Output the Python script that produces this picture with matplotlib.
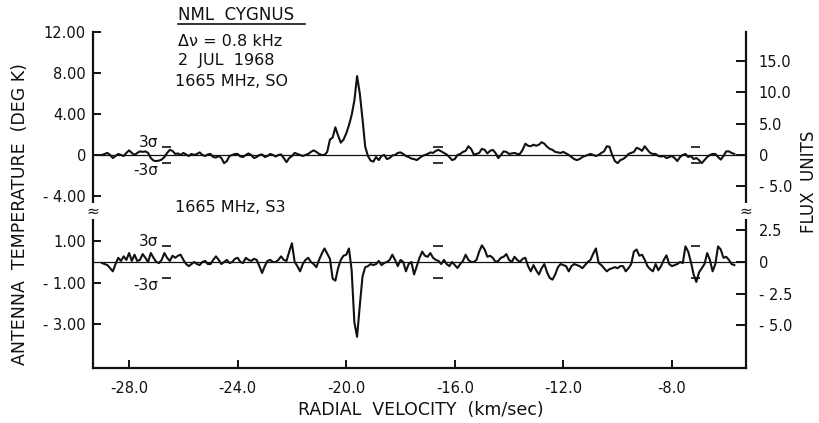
import numpy as np
import matplotlib
matplotlib.use("Agg")
import matplotlib.pyplot as plt

# channel grid (km/s): first channel and spacing
V_START = -29.0
V_STEP = 0.1

# 1665 MHz, S0 antenna temperature (deg K), one value per channel
temp_s0 = [
    0.0, 0.1, 0.2, 0.0, -0.3, -0.1, 0.1, 0.0, -0.1, 0.2,
    0.45, 0.2, 0.0, 0.2, 0.35, 0.3, 0.35, 0.2, -0.3, -0.55,
    -0.6, -0.55, -0.45, -0.2, 0.2, 0.5, 0.4, 0.1, 0.15, 0.0,
    0.2, 0.05, -0.1, 0.1, 0.0, 0.1, 0.25, 0.0, -0.1, 0.05,
    0.1, -0.2, -0.25, -0.1, -0.3, -0.8, -0.6, -0.1, 0.0, 0.1,
    0.1, -0.15, -0.2, 0.0, 0.15, 0.0, -0.3, -0.2, 0.0, 0.05,
    -0.2, -0.1, 0.1, 0.0, -0.15, 0.0, 0.05, -0.3, -0.7, -0.3,
    -0.1, 0.2, 0.1, 0.0, -0.1, 0.0, 0.1, 0.3, 0.45, 0.3,
    0.1, 0.0, 0.0, 0.3, 1.5, 1.7, 2.7, 1.9, 1.2, 1.5,
    2.1, 2.9, 3.9, 5.3, 7.7, 6.0, 3.5, 0.8, -0.1, -0.55,
    -0.65, -0.2, -0.5, -0.1, 0.0, -0.4, -0.3, -0.05, 0.0, 0.2,
    0.25, 0.1, -0.1, -0.2, -0.35, -0.4, -0.5, -0.3, -0.1, 0.0,
    0.1, 0.25, 0.2, 0.4, 0.5, 0.35, 0.2, 0.05, -0.2, -0.5,
    -0.4, 0.0, 0.1, 0.3, 0.4, 0.85, 0.6, 0.05, 0.1, 0.2,
    0.6, 0.5, 0.15, 0.4, 0.5, 0.2, -0.3, 0.0, 0.35, 0.3,
    0.1, 0.15, 0.2, 0.1, 0.1, 0.5, 1.1, 0.9, 0.85, 1.0,
    0.9, 1.0, 1.25, 1.1, 0.8, 0.6, 0.5, 0.3, 0.25, 0.2,
    0.3, 0.15, 0.0, -0.2, -0.4, -0.5, -0.4, -0.2, -0.1, 0.0,
    0.1, 0.0, -0.1, 0.0, 0.2, 0.35, 0.85, 0.8, 0.0, -0.6,
    -0.8, -0.5, -0.4, -0.2, 0.1, 0.2, 0.3, 0.7, 0.6, 0.4,
    0.85, 0.5, 0.2, 0.1, 0.1, -0.1, -0.15, -0.1, -0.3, -0.2,
    -0.1, -0.3, -0.6, -0.2, 0.0, 0.1, -0.2, -0.1, -0.4, -0.3,
    -0.5, -0.8, -0.5, -0.2, 0.0, 0.1, 0.1, -0.2, -0.45, -0.1,
    0.35, 0.35, 0.2, 0.1,
]

# 1665 MHz, S3 antenna temperature (deg K)
temp_s3 = [
    -0.05, -0.1, -0.15, -0.3, -0.45, -0.1, 0.2, 0.05, 0.27, 0.1,
    0.43, 0.05, 0.35, 0.05, 0.1, 0.38, 0.2, 0.0, 0.43, 0.2,
    0.0, -0.05, 0.1, 0.43, 0.2, 0.05, 0.3, 0.2, 0.3, 0.35,
    0.1, -0.1, -0.2, -0.1, 0.0, -0.1, -0.15, 0.0, 0.05, -0.1,
    -0.1, 0.1, 0.27, 0.1, -0.1, 0.0, 0.1, -0.05, 0.0, 0.15,
    0.2, 0.0, -0.05, 0.2, 0.1, 0.05, 0.15, 0.1, -0.2, -0.53,
    -0.2, 0.05, 0.1, 0.0, 0.0, 0.1, 0.27, 0.1, 0.05, 0.5,
    0.9, 0.0, -0.2, -0.45, -0.1, 0.1, 0.2, 0.0, -0.1, -0.25,
    0.1, 0.4, 0.65, 0.4, 0.15, -0.8, -0.9, -0.3, 0.1, 0.3,
    0.35, 0.65, -0.4, -2.9, -3.6, -2.1, -0.7, -0.25, -0.2, -0.1,
    -0.15, -0.1, 0.05, -0.15, -0.05, 0.0, 0.1, 0.35, 0.1, -0.2,
    0.1, 0.0, -0.45, -0.1, 0.0, -0.6, -0.2, 0.2, 0.5, 0.3,
    0.25, 0.43, 0.2, 0.1, 0.05, -0.1, 0.1, -0.1, -0.2, 0.0,
    -0.15, -0.29, -0.1, 0.05, 0.35, 0.1, 0.0, 0.0, 0.1, 0.5,
    0.8, 0.6, 0.25, 0.3, 0.2, 0.0, 0.05, 0.2, 0.25, 0.38,
    0.1, 0.0, 0.25, 0.1, 0.0, 0.15, 0.2, -0.2, -0.45, -0.15,
    -0.4, -0.6, -0.3, -0.1, -0.5, -0.77, -0.85, -0.6, -0.25, -0.1,
    -0.15, -0.2, -0.45, -0.2, -0.1, -0.15, -0.2, -0.3, -0.15, 0.0,
    0.1, 0.4, 0.65, -0.05, -0.15, -0.3, -0.45, -0.35, -0.3, -0.25,
    -0.3, -0.2, -0.2, -0.45, -0.3, -0.1, 0.5, 0.6, 0.3, 0.35,
    0.1, -0.2, -0.35, -0.45, -0.1, -0.4, -0.2, 0.1, 0.32, -0.1,
    -0.2, -0.15, -0.1, 0.0, -0.05, 0.75, 0.5, 0.0, -0.6, -0.96,
    -0.5, -0.3, -0.1, 0.43, 0.1, -0.45, -0.1, 0.75, 0.6, 0.2,
    0.25, 0.1, -0.1, -0.15,
]

# 3-sigma noise levels (deg K) and where the marks sit (km/s)
sigma3_s0 = 0.8
sigma3_s3 = 0.75
sigma_mark_v = [-26.62, -16.62, -7.12]

# axis ticks
vel_ticks = [-28.0, -24.0, -20.0, -16.0, -12.0, -8.0]
vel_labels = ["-28.0", "-24.0", "-20.0", "-16.0", "-12.0", "-8.0"]
s0_ticks = [12.0, 8.0, 4.0, 0.0, -4.0]
s0_labels = ["12.00", "8.00", "4.00", "0", "- 4.00"]
s3_ticks = [1.0, -1.0, -3.0]
s3_labels = ["1.00", "- 1.00", "- 3.00"]
flux_s0_ticks = [15.0, 10.0, 5.0, 0.0, -5.0]
flux_s0_labels = ["15.0", "10.0", "5.0", "0", "- 5.0"]
flux_s3_ticks = [2.5, 0.0, -2.5, -5.0]
flux_s3_labels = ["2.5", "0", "- 2.5", "- 5.0"]

K_PER_FLUX = 0.61  # deg K per flux unit

INK = "#111111"
plt.rcParams["font.family"] = ["DejaVu Sans"]
plt.rcParams["text.color"] = INK

W, H = 819, 423


def box(x0, y0, x1, y1):
    """Pixel box (top-left origin) -> figure fraction rect."""
    return [x0 / W, 1 - y1 / H, (x1 - x0) / W, (y1 - y0) / H]


def style_panel(ax, ticks, labels, flux_ticks, flux_labels):
    ax.set_xlim(-29.33, -5.27)
    for side in ("top", "bottom", "right"):
        ax.spines[side].set_visible(False)
    ax.spines["left"].set_linewidth(1.6)
    ax.spines["left"].set_color(INK)
    ax.set_yticks(ticks)
    ax.set_yticklabels(labels)
    ax.tick_params(axis="y", direction="in", length=6, width=1.4, pad=5,
                   labelsize=10.5, colors=INK)
    ax.axhline(0, color=INK, lw=0.9)
    sec = ax.secondary_yaxis("right", functions=(lambda t: t / K_PER_FLUX,
                                                 lambda f: f * K_PER_FLUX))
    sec.set_yticks(flux_ticks)
    sec.set_yticklabels(flux_labels)
    sec.spines["right"].set_linewidth(1.6)
    sec.spines["right"].set_color(INK)
    sec.tick_params(direction="in", length=7, width=1.4, pad=9,
                    labelsize=10.5, colors=INK)
    return sec


fig = plt.figure(figsize=(8.19, 4.23), dpi=100)
ax_s0 = fig.add_axes(box(93, 32, 746, 210))
ax_s3 = fig.add_axes(box(93, 210, 746, 368))

vel = V_START + V_STEP * np.arange(len(temp_s0))
vel3 = V_START + V_STEP * np.arange(len(temp_s3))

# upper spectrum, S0
ax_s0.plot(vel, temp_s0, color=INK, lw=1.5, solid_joinstyle="round")
ax_s0.set_ylim(-5.37, 12.0)
style_panel(ax_s0, s0_ticks, s0_labels, flux_s0_ticks, flux_s0_labels)
ax_s0.set_xticks([])

# lower spectrum, S3
ax_s3.plot(vel3, temp_s3, color=INK, lw=1.5, solid_joinstyle="round")
ax_s3.set_ylim(-5.1, 2.5)
style_panel(ax_s3, s3_ticks, s3_labels, flux_s3_ticks, flux_s3_labels)
ax_s3.spines["bottom"].set_visible(True)
ax_s3.spines["bottom"].set_linewidth(1.6)
ax_s3.spines["bottom"].set_color(INK)
ax_s3.set_xticks(vel_ticks)
ax_s3.set_xticklabels(vel_labels)
ax_s3.tick_params(axis="x", direction="in", length=6, width=1.4, pad=9,
                  labelsize=10.5, colors=INK)

# +/- 3 sigma marks
for ax, lev in ((ax_s0, sigma3_s0), (ax_s3, sigma3_s3)):
    for v in sigma_mark_v:
        ax.hlines([lev, -lev], v - 0.17, v + 0.17, color=INK, lw=1.2)
    ax.text(sigma_mark_v[0] - 0.3, lev, "3σ", ha="right", va="baseline",
            fontsize=11)
    ax.text(sigma_mark_v[0] - 0.3, -lev, "-3σ", ha="right", va="top",
            fontsize=11)

# axis break marks
for x in (93, 746):
    fig.text(x / W, 1 - 211 / H, "≈", ha="center", va="center", fontsize=11,
             color=INK, bbox=dict(fc="white", ec="none", pad=0.2))

# captions
fig.text(178 / W, 1 - 15 / H, "NML  CYGNUS", ha="left", va="center",
         fontsize=12)
fig.add_artist(plt.Line2D([178 / W, 305 / W], [1 - 24 / H, 1 - 24 / H],
                          color=INK, lw=1.2))
fig.text(178 / W, 1 - 42 / H, "Δν = 0.8 kHz", ha="left", va="center",
         fontsize=11.5)
fig.text(178 / W, 1 - 60 / H, "2  JUL  1968", ha="left", va="center",
         fontsize=11.5)
fig.text(175 / W, 1 - 81 / H, "1665 MHz, SO", ha="left", va="center",
         fontsize=11.5)
fig.text(175 / W, 1 - 207 / H, "1665 MHz, S3", ha="left", va="center",
         fontsize=11.5)

fig.text(20 / W, 1 - 214 / H, "ANTENNA  TEMPERATURE  (DEG K)", rotation=90,
         ha="center", va="center", fontsize=12.5)
fig.text(809 / W, 1 - 182 / H, "FLUX  UNITS", rotation=90,
         ha="center", va="center", fontsize=12)
fig.text(421 / W, 1 - 410 / H, "RADIAL  VELOCITY  (km/sec)",
         ha="center", va="center", fontsize=12.5)

fig.savefig("out.png", dpi=100)
